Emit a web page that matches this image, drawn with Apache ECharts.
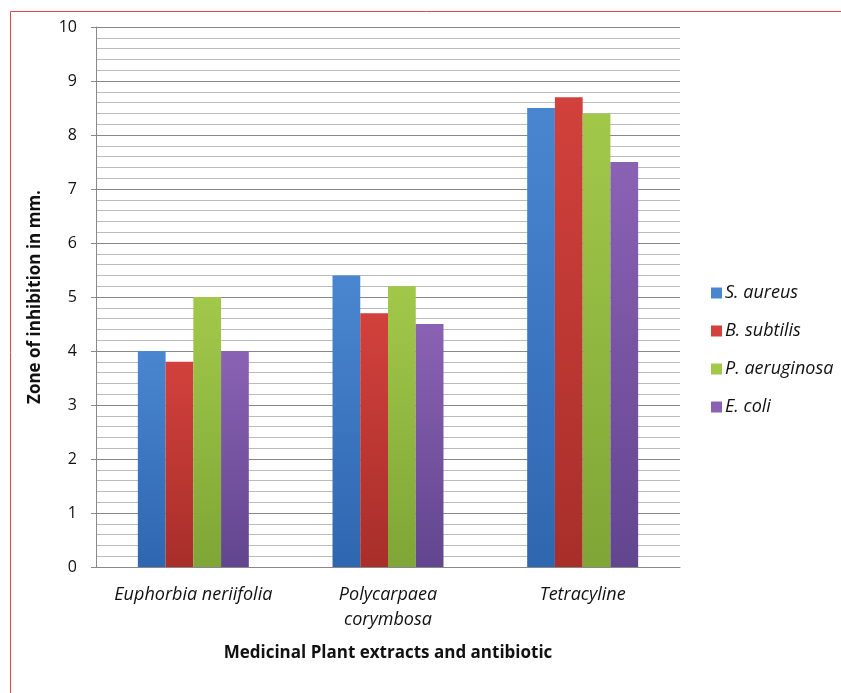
<!DOCTYPE html>
<html>
<head>
<meta charset="utf-8">
<script src="https://cdn.jsdelivr.net/npm/echarts@6/dist/echarts.min.js"></script>
<style>
html, body { margin: 0; padding: 0; background: #fff; }
#main { width: 841px; height: 693px; }
</style>
</head>
<body>
<div id="main"></div>
<script>
var categories = ['Euphorbia neriifolia', 'Polycarpaea\ncorymbosa', 'Tetracyline'];
var sAureus = [4.0, 5.4, 8.5];
var bSubtilis = [3.8, 4.7, 8.7];
var pAeruginosa = [5.0, 5.2, 8.4];
var eColi = [4.0, 4.5, 7.5];
var seriesNames = ['S. aureus', 'B. subtilis', 'P. aeruginosa', 'E. coli'];
var seriesColors = [['#4a86d0', '#2f66b0'], ['#d2413c', '#a82e2a'], ['#a2c84a', '#7fa636'], ['#8a62b4', '#62458f']];

var chart = echarts.init(document.getElementById('main'));

function grad(c) {
	return new echarts.graphic.LinearGradient(0, 0, 0, 1, [
		{ offset: 0, color: c[0] },
		{ offset: 1, color: c[1] }
	]);
}

var allData = [sAureus, bSubtilis, pAeruginosa, eColi];
var series = [];
for (var i = 0; i < seriesNames.length; i++) {
	series.push({
		name: seriesNames[i],
		type: 'bar',
		data: allData[i],
		barGap: '0%',
		barCategoryGap: '43%',
		itemStyle: { color: grad(seriesColors[i]) }
	});
}

var font = 'Open Sans';

var option = {
	backgroundColor: '#fff',
	textStyle: { fontFamily: font },
	graphic: [{
		type: 'rect',
		shape: { x: 10.5, y: 11.5, width: 840, height: 690 },
		style: { fill: 'none', stroke: '#e0474c', lineWidth: 1 },
		silent: true
	}],
	legend: {
		orient: 'vertical',
		left: 706,
		top: 279,
		itemWidth: 11,
		itemHeight: 11,
		itemGap: 20,
		icon: 'rect',
		data: seriesNames.map(function (n, i) {
			return { name: n, itemStyle: { color: seriesColors[i][0] } };
		}),
		textStyle: { fontSize: 18, fontStyle: 'italic', color: '#111', fontFamily: font, padding: [0, 0, 0, -2] }
	},
	grid: { left: 96, right: 161, top: 27, bottom: 126, containLabel: false },
	xAxis: {
		type: 'category',
		data: categories,
		name: 'Medicinal Plant extracts and antibiotic',
		nameLocation: 'middle',
		nameGap: 78,
		nameTextStyle: { fontSize: 17, fontWeight: 'bold', color: '#111', fontFamily: font },
		axisLine: { lineStyle: { color: '#888' } },
		axisTick: { show: false },
		axisLabel: { interval: 0, hideOverlap: false, fontSize: 18, fontStyle: 'italic', color: '#111', margin: 15, lineHeight: 25, fontFamily: font }
	},
	yAxis: {
		type: 'value',
		min: 0,
		max: 10,
		interval: 1,
		name: 'Zone of inhibition in mm.',
		nameLocation: 'middle',
		nameRotate: 90,
		nameGap: 52,
		nameTextStyle: { fontSize: 17, fontWeight: 'bold', color: '#111', fontFamily: font },
		axisLine: { show: true, lineStyle: { color: '#888' } },
		axisTick: { show: true, inside: false, length: 5, lineStyle: { color: '#888' } },
		axisLabel: { fontSize: 16, color: '#111', margin: 19, fontFamily: font },
		splitLine: { lineStyle: { color: '#888', width: 1 } },
		minorTick: { show: false, splitNumber: 5 },
		minorSplitLine: { show: true, lineStyle: { color: '#bbb', width: 1 } }
	},
	series: series
};

chart.setOption(option);
</script>
</body>
</html>
